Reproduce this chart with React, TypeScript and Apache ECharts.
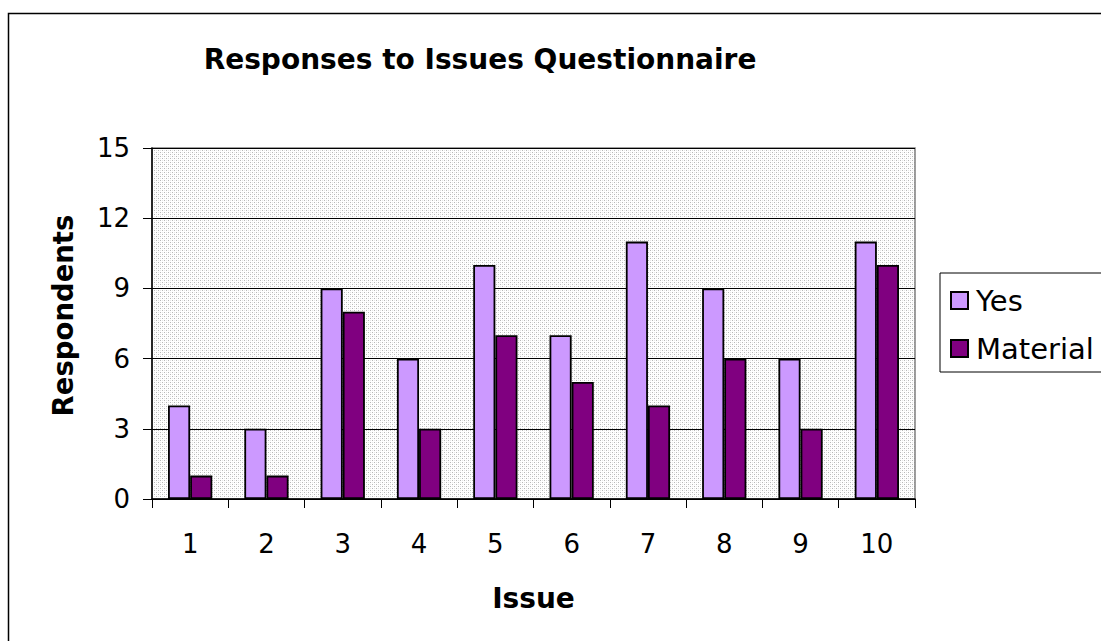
import React, { useEffect, useRef } from "react";
import * as echarts from "echarts";

const categories = ["1", "2", "3", "4", "5", "6", "7", "8", "9", "10"];
const yesValues = [4, 3, 9, 6, 10, 7, 11, 9, 6, 11];
const materialValues = [1, 1, 8, 3, 7, 5, 4, 6, 3, 10];
const seriesNames = ["Yes", "Material"];
const titleText = "Responses to Issues Questionnaire";
const xName = "Issue";
const yName = "Respondents";

const FONT = "'DejaVu Sans', Verdana, sans-serif";

const dotSvg =
  "data:image/svg+xml;utf8," +
  encodeURIComponent(
    "<svg xmlns='http://www.w3.org/2000/svg' width='4' height='4'><rect width='4' height='4' fill='#ffffff'/><rect x='0' y='0' width='1' height='1' fill='#b8b8b8'/><rect x='2' y='2' width='1' height='1' fill='#b8b8b8'/><rect x='2' y='0' width='1' height='1' fill='#e6e6e6'/><rect x='0' y='2' width='1' height='1' fill='#e6e6e6'/></svg>"
  );

export default function App() {
  const ref = useRef<HTMLDivElement>(null);
  useEffect(() => {
    if (!ref.current) return;
    const chart = echarts.init(ref.current, null, { renderer: "svg" });
    chart.setOption({
      animation: false,
      backgroundColor: "#ffffff",
      textStyle: { fontFamily: FONT, color: "#000" },
      title: {
        text: titleText,
        left: 475,
        top: 40,
        textAlign: "center",
        textStyle: { fontFamily: FONT, fontSize: 28, fontWeight: "bold", color: "#000" },
      },
      graphic: [
        {
          type: "rect",
          shape: { x: 8.5, y: 13.5, width: 1200, height: 700 },
          style: { fill: "none", stroke: "#000", lineWidth: 1.5 },
          z: 100,
        },
      ],
      legend: {
        orient: "vertical",
        left: 940,
        top: 273,
        padding: [13, 60, 9, 10],
        itemWidth: 17,
        itemHeight: 17,
        itemGap: 19,
        icon: "rect",
        borderColor: "#000",
        borderWidth: 1,
        backgroundColor: "#fff",
        data: seriesNames,
        textStyle: { fontFamily: FONT, fontSize: 29, color: "#000", padding: [0, 0, 0, 3] },
      },
      grid: {
        left: 152,
        top: 148,
        right: 186,
        bottom: 142,
        show: true,
        borderColor: "#808080",
        borderWidth: 1.5,
        backgroundColor: { image: dotSvg, repeat: "repeat" },
      },
      xAxis: {
        type: "category",
        data: categories,
        name: xName,
        nameLocation: "middle",
        nameGap: 85,
        nameTextStyle: { fontFamily: FONT, fontSize: 28, fontWeight: "bold", color: "#000" },
        axisLine: { lineStyle: { color: "#000", width: 1.5 } },
        axisTick: { show: true, length: 9, lineStyle: { color: "#000", width: 1 } },
        axisLabel: { fontFamily: FONT, fontSize: 26, color: "#000", margin: 32 },
      },
      yAxis: {
        type: "value",
        min: 0,
        max: 15,
        interval: 3,
        name: yName,
        nameLocation: "middle",
        nameGap: 75,
        nameTextStyle: {
          fontFamily: FONT,
          fontSize: 27.5,
          fontWeight: "bold",
          color: "#000",
          padding: [0, 0, 0, 16],
        },
        axisLine: { show: true, lineStyle: { color: "#000", width: 1.5 } },
        axisTick: { show: true, length: 9, lineStyle: { color: "#000", width: 1 } },
        axisLabel: { fontFamily: FONT, fontSize: 26, color: "#000", margin: 22 },
        splitLine: { show: true, lineStyle: { color: "#000", width: 1 } },
      },
      series: [
        {
          name: seriesNames[0],
          type: "bar",
          data: yesValues,
          barGap: "0%",
          barCategoryGap: "42%",
          itemStyle: { color: "#CC99FF", borderColor: "#000", borderWidth: 1.8 },
        },
        {
          name: seriesNames[1],
          type: "bar",
          data: materialValues,
          barGap: "0%",
          barCategoryGap: "42%",
          itemStyle: { color: "#800080", borderColor: "#000", borderWidth: 1.8 },
        },
      ],
    });
    return () => chart.dispose();
  }, []);
  return (
    <div
      ref={ref}
      style={{ position: "fixed", left: 0, top: 0, width: 1101, height: 641 }}
    />
  );
}
